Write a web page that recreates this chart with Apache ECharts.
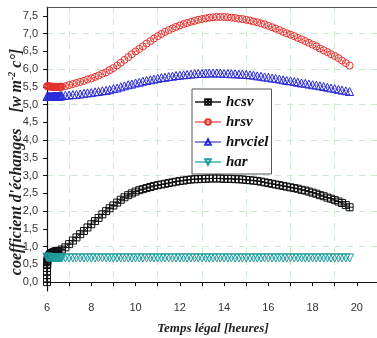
<!DOCTYPE html>
<html>
<head>
<meta charset="utf-8">
<script src="https://cdn.jsdelivr.net/npm/echarts@6/dist/echarts.min.js"></script>
<style>html,body{margin:0;padding:0;background:#fff;}#c{width:377px;height:338px;}</style>
</head>
<body>
<div id="c"></div>
<script>
const seriesNames = ['hcsv', 'hrsv', 'hrvciel', 'har'];
const yTickValues = [0, 0.5, 1, 1.5, 2, 2.5, 3, 3.5, 4, 4.5, 5, 5.5, 6, 6.5, 7, 7.5];
const xTickLabels = [6, 8, 10, 12, 14, 16, 18, 20];

const hours = [
  6.00, 6.17, 6.33, 6.50, 6.67, 6.83,
  7.00, 7.17, 7.33, 7.50, 7.67, 7.83,
  8.00, 8.17, 8.33, 8.50, 8.67, 8.83,
  9.00, 9.17, 9.33, 9.50, 9.67, 9.83,
  10.00, 10.17, 10.33, 10.50, 10.67, 10.83,
  11.00, 11.17, 11.33, 11.50, 11.67, 11.83,
  12.00, 12.17, 12.33, 12.50, 12.67, 12.83,
  13.00, 13.17, 13.33, 13.50, 13.67, 13.83,
  14.00, 14.17, 14.33, 14.50, 14.67, 14.83,
  15.00, 15.17, 15.33, 15.50, 15.67, 15.83,
  16.00, 16.17, 16.33, 16.50, 16.67, 16.83,
  17.00, 17.17, 17.33, 17.50, 17.67, 17.83,
  18.00, 18.17, 18.33, 18.50, 18.67, 18.83,
  19.00, 19.17, 19.33, 19.50, 19.67
];

const hcsv = [
  0.00, 0.80, 0.85, 0.88, 0.92, 0.98,
  1.07, 1.17, 1.26, 1.35, 1.44, 1.54,
  1.63, 1.72, 1.81, 1.91, 2.00, 2.08,
  2.16, 2.24, 2.32, 2.39, 2.45, 2.50,
  2.55, 2.59, 2.62, 2.65, 2.68, 2.71,
  2.73, 2.75, 2.77, 2.79, 2.81, 2.83,
  2.85, 2.86, 2.88, 2.89, 2.90, 2.90,
  2.91, 2.91, 2.92, 2.92, 2.92, 2.92,
  2.91, 2.91, 2.91, 2.90, 2.90, 2.89,
  2.88, 2.87, 2.86, 2.85, 2.83, 2.81,
  2.79, 2.77, 2.75, 2.73, 2.71, 2.69,
  2.67, 2.65, 2.63, 2.60, 2.58, 2.55,
  2.52, 2.49, 2.45, 2.42, 2.38, 2.35,
  2.31, 2.27, 2.23, 2.17, 2.11
];

const hrsv = [
  5.52, 5.51, 5.50, 5.50, 5.50, 5.52,
  5.55, 5.58, 5.61, 5.64, 5.67, 5.71,
  5.74, 5.78, 5.82, 5.87, 5.91, 5.97,
  6.03, 6.10, 6.18, 6.26, 6.34, 6.42,
  6.50, 6.57, 6.64, 6.72, 6.79, 6.86,
  6.93, 6.99, 7.05, 7.10, 7.15, 7.19,
  7.23, 7.27, 7.30, 7.33, 7.36, 7.39,
  7.41, 7.43, 7.45, 7.46, 7.47, 7.47,
  7.47, 7.46, 7.45, 7.44, 7.42, 7.41,
  7.39, 7.37, 7.34, 7.32, 7.29, 7.26,
  7.22, 7.18, 7.14, 7.10, 7.05, 7.01,
  6.97, 6.93, 6.88, 6.84, 6.79, 6.74,
  6.69, 6.64, 6.58, 6.53, 6.48, 6.42,
  6.37, 6.31, 6.24, 6.17, 6.10
];

const hrvciel = [
  5.23, 5.23, 5.24, 5.24, 5.25, 5.26,
  5.27, 5.28, 5.29, 5.30, 5.32, 5.33,
  5.34, 5.36, 5.37, 5.39, 5.40, 5.42,
  5.45, 5.47, 5.50, 5.53, 5.56, 5.58,
  5.61, 5.63, 5.66, 5.68, 5.70, 5.72,
  5.74, 5.76, 5.77, 5.79, 5.80, 5.82,
  5.83, 5.84, 5.85, 5.86, 5.87, 5.88,
  5.88, 5.89, 5.89, 5.89, 5.89, 5.89,
  5.88, 5.88, 5.87, 5.87, 5.86, 5.86,
  5.85, 5.84, 5.83, 5.81, 5.80, 5.78,
  5.77, 5.75, 5.74, 5.72, 5.70, 5.68,
  5.67, 5.65, 5.63, 5.61, 5.60, 5.58,
  5.56, 5.55, 5.53, 5.51, 5.49, 5.47,
  5.45, 5.43, 5.41, 5.39, 5.37
];

const har = [
  0.70, 0.69, 0.68, 0.68, 0.68, 0.68,
  0.68, 0.68, 0.68, 0.68, 0.68, 0.68,
  0.68, 0.68, 0.68, 0.68, 0.68, 0.68,
  0.68, 0.68, 0.68, 0.68, 0.68, 0.68,
  0.68, 0.68, 0.68, 0.68, 0.68, 0.68,
  0.68, 0.68, 0.68, 0.68, 0.68, 0.68,
  0.68, 0.68, 0.68, 0.68, 0.68, 0.68,
  0.68, 0.68, 0.68, 0.68, 0.68, 0.68,
  0.68, 0.68, 0.68, 0.68, 0.68, 0.68,
  0.68, 0.68, 0.68, 0.68, 0.68, 0.68,
  0.68, 0.68, 0.68, 0.68, 0.68, 0.68,
  0.68, 0.68, 0.68, 0.68, 0.68, 0.68,
  0.68, 0.68, 0.68, 0.68, 0.68, 0.68,
  0.68, 0.68, 0.68, 0.68, 0.68
];

// denser early-morning readings
const earlyHours = [6.03, 6.06, 6.09, 6.12, 6.20, 6.23, 6.26, 6.29, 6.37, 6.40, 6.43, 6.46, 6.54, 6.57, 6.60, 6.63];
const earlyHrsv = [5.52, 5.52, 5.51, 5.51, 5.51, 5.50, 5.50, 5.50, 5.50, 5.50, 5.50, 5.50, 5.50, 5.50, 5.50, 5.51];
const earlyHrvciel = [5.23, 5.23, 5.23, 5.23, 5.23, 5.23, 5.23, 5.24, 5.24, 5.24, 5.24, 5.24, 5.24, 5.25, 5.25, 5.25];
const earlyHar = [0.70, 0.70, 0.70, 0.69, 0.69, 0.69, 0.69, 0.68, 0.68, 0.68, 0.68, 0.68, 0.68, 0.68, 0.68, 0.68];
const hcsvEarlyHours = [6.00, 6.00, 6.00, 6.00, 6.01, 6.01, 6.02, 6.03, 6.05, 6.07, 6.09, 6.12, 6.14, 6.20, 6.23, 6.26, 6.29, 6.37, 6.40, 6.43, 6.46];
const hcsvEarly = [0.10, 0.20, 0.30, 0.40, 0.48, 0.56, 0.62, 0.66, 0.69, 0.72, 0.74, 0.76, 0.78, 0.81, 0.82, 0.83, 0.84, 0.86, 0.87, 0.87, 0.88];

function pairs(xs, ys, ex, ey) {
  const out = xs.map((x, i) => [x, ys[i]]);
  ex.forEach((x, i) => out.push([x, ey[i]]));
  out.sort((a, b) => a[0] - b[0]);
  return out;
}

const chart = echarts.init(document.getElementById('c'), null, { renderer: 'canvas' });

const axisFont = { fontFamily: 'Liberation Sans, Arial, sans-serif', fontSize: 11, color: '#333' };
const serifBI = { fontFamily: 'Liberation Serif, Times New Roman, serif', fontStyle: 'italic', fontWeight: 'bold' };

function mkSeries(name, data, symbol, size, color, lineColor) {
  return {
    name: name, type: 'line', data: data,
    symbol: symbol, symbolSize: size, showAllSymbol: true,
    itemStyle: { color: 'transparent', borderColor: color, borderWidth: 1 },
    lineStyle: { color: lineColor, width: 1 },
    emphasis: { disabled: true },
    clip: false
  };
}

chart.setOption({
  animation: false,
  backgroundColor: '#fff',
  grid: { left: 47, top: 7, width: 332, height: 284, show: false, containLabel: false, outerBoundsMode: 'none' },
  legend: {
    left: 192, top: 89, orient: 'vertical',
    padding: [5, 3, 4, 2], itemGap: 4, itemWidth: 26, itemHeight: 7,
    borderColor: '#555', borderWidth: 1, backgroundColor: '#fff',
    textStyle: Object.assign({ fontSize: 15, color: '#111', lineHeight: 16 }, serifBI),
    data: [
      { name: 'hcsv', lineStyle: { color: '#555' } },
      { name: 'hrsv', lineStyle: { color: '#f08a8a' } },
      { name: 'hrvciel', lineStyle: { color: '#8a8ad8' } },
      { name: 'har', lineStyle: { color: '#6cc4c4' } }
    ]
  },
  xAxis: [{
    type: 'value', min: 6, max: 21, interval: 1,
    name: 'Temps légal [heures]', nameLocation: 'middle', nameGap: 31, nameMoveOverlap: false,
    nameTextStyle: Object.assign({ fontSize: 13, color: '#222' }, serifBI),
    axisLine: { lineStyle: { color: '#111', width: 1.2 } },
    axisTick: { show: true, length: 4, lineStyle: { color: '#111' } },
    axisLabel: Object.assign({ margin: 11, formatter: v => xTickLabels.indexOf(v) >= 0 ? String(v) : '' }, axisFont),
    splitLine: { show: true, lineStyle: { color: ['transparent', '#cde8cd'], type: [6, 6], width: 1 } }
  }, {
    type: 'value', min: 6, max: 21, position: 'top',
    axisLine: { show: true, onZero: false, lineStyle: { color: '#555', width: 1 } },
    axisTick: { show: false }, axisLabel: { show: false }, splitLine: { show: false }
  }],
  yAxis: {
    type: 'value', min: -0.25, max: 7.75, interval: 0.25,
    name: "{a|coefficient d'échanges}{g|}{b|[w m}{s|-2}{b| c°]}{e|}",
    nameLocation: 'middle', nameGap: 21, nameMoveOverlap: false,
    nameTextStyle: {
      rich: {
        a: Object.assign({ fontSize: 16, color: '#222', lineHeight: 19 }, serifBI),
        b: Object.assign({ fontSize: 16, color: '#222', lineHeight: 19 }, serifBI),
        s: Object.assign({ fontSize: 10, color: '#222', verticalAlign: 'top', lineHeight: 19 }, serifBI),
        g: { width: 16 },
        e: { width: 26 }
      }
    },
    axisLine: { show: true, onZero: false, lineStyle: { color: '#111', width: 1.2 } },
    axisTick: { show: true, length: 4, customValues: yTickValues, lineStyle: { color: '#111' } },
    axisLabel: Object.assign({
      margin: 9, customValues: yTickValues,
      formatter: v => yTickValues.some(t => Math.abs(t - v) < 1e-6) ? Number(v).toFixed(1).replace('.', ',') : ''
    }, axisFont),
    splitLine: { show: true, lineStyle: { color: ['#cde8cd', 'transparent'], type: [6, 6], width: 1 } }
  },
  series: [
    mkSeries('hcsv', pairs(hours, hcsv, hcsvEarlyHours, hcsvEarly), 'path://M0,0H10V10H0Z M5,0V10 M0,5H10', 7, '#111', '#444'),
    mkSeries('hrsv', pairs(hours, hrsv, earlyHours, earlyHrsv), 'circle', 7, '#e4302c', '#f08a8a'),
    mkSeries('hrvciel', pairs(hours, hrvciel, earlyHours, earlyHrvciel), 'triangle', 8, '#2a2ad8', '#8a8ad8'),
    mkSeries('har', pairs(hours, har, earlyHours, earlyHar), 'path://M0,0L10,0L5,8Z', 8, '#1f9c9c', '#6cc4c4')
  ]
});
</script>
</body>
</html>
